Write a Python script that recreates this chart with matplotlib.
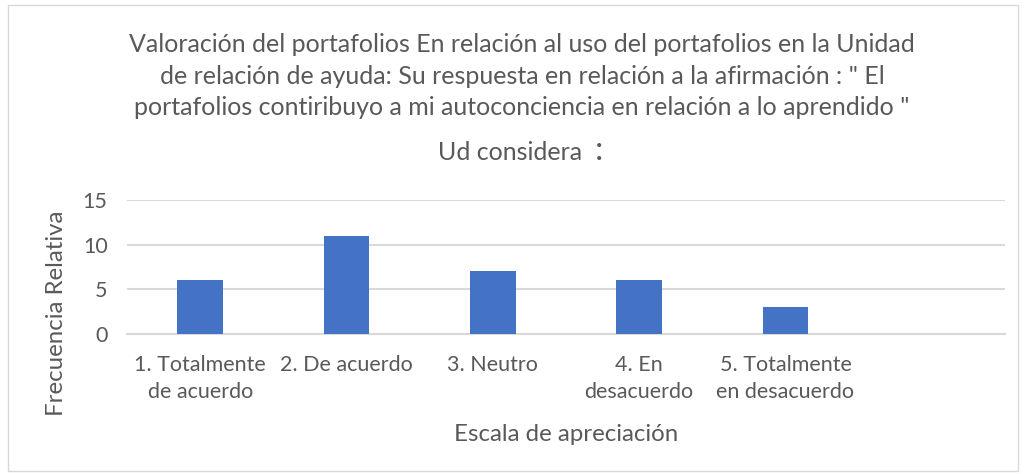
import matplotlib
matplotlib.use("Agg")
import matplotlib.pyplot as plt
from matplotlib.patches import Rectangle
import numpy as np

categories = ["1. Totalmente\nde acuerdo", "2. De acuerdo", "3. Neutro",
              "4. En\ndesacuerdo", "5. Totalmente\nen desacuerdo", ""]
values = [6, 11, 7, 6, 3, np.nan]
yticks = [0, 5, 10, 15]
title = ("Valoración del portafolios En relación al uso del portafolios en la Unidad\n"
         "de relación de ayuda: Su respuesta en relación a la afirmación : \" El\n"
         "portafolios contiribuyo a mi autoconciencia en relación a lo aprendido \"")
title2 = "Ud considera"
xlabel = "Escala de apreciación"
ylabel = "Frecuencia Relativa"

plt.rcParams['font.family'] = ['Lato', 'DejaVu Sans']
gray = "#595959"

W, H = 1024, 474
fig = plt.figure(figsize=(W/100, H/100), dpi=100)
fig.patches.append(Rectangle((8/W, 3/H), 1010/W, 466/H, transform=fig.transFigure,
                             fill=False, edgecolor="#d9d9d9", linewidth=1))

ax = fig.add_axes([127/W, 1-334/H, 878/W, 134/H])
x = np.arange(len(categories))
ax.bar(x, values, width=0.31, color="#4472C4", zorder=3)
ax.set_xlim(-0.5, len(categories)-0.5)
ax.set_ylim(0, 15)
ax.set_yticks(yticks)
ax.set_xticks(x[:5])
ax.set_xticklabels(categories[:5], linespacing=1.45)
ax.grid(axis="y", color="#d9d9d9", linewidth=1.5, zorder=0)
for s in ["top", "right", "left"]:
    ax.spines[s].set_visible(False)
ax.spines["bottom"].set_color("#d9d9d9")
ax.spines["bottom"].set_linewidth(1.5)
ax.tick_params(length=0, labelsize=15.5, labelcolor=gray)
ax.tick_params(axis="x", pad=15)
ax.tick_params(axis="y", pad=14)
ax.set_xlabel(xlabel, fontsize=17.3, color=gray)
ax.set_ylabel(ylabel, fontsize=17.3, color=gray)
ax.yaxis.set_label_coords(-0.068, 0.155)
ax.xaxis.set_label_coords(0.5, -0.67)

fig.text(522/W, 1-76/H, title, ha="center", va="center", fontsize=18,
         color=gray, linespacing=1.43)
fig.text(510/W, 1-153/H, title2, ha="center", va="center", fontsize=18, color=gray)
fig.text(599/W, 1-151/H, ":", ha="center", va="center", fontsize=24, color=gray)

fig.savefig("out.png", dpi=100)
